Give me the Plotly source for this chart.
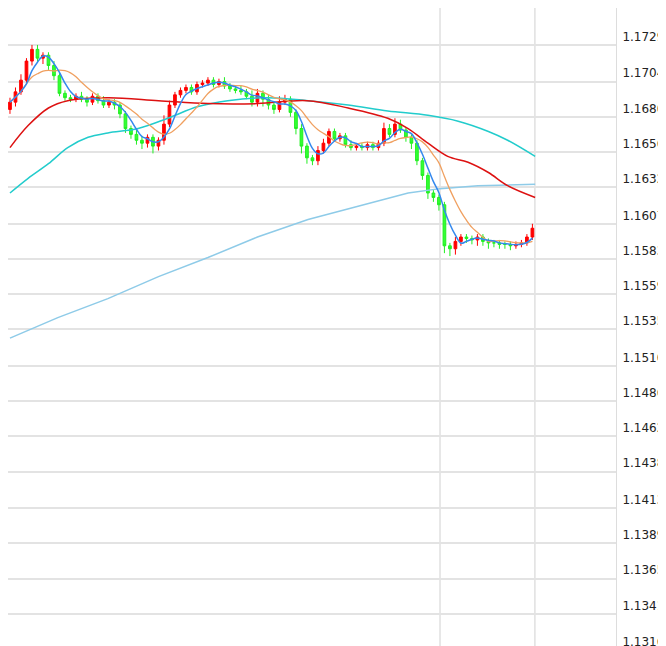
import plotly.graph_objects as go
import pandas as pd

closes = [1.1690,1.1697,1.1705,1.1718,1.1726,1.1720,1.1722,1.1715,1.1708,1.1696,
          1.1693,1.1692,1.1694,1.1692,1.1690,1.1694,1.1691,1.1688,1.1690,1.1688,
          1.1682,1.1672,1.1668,1.1664,1.1662,1.1666,1.1660,1.1664,1.1675,1.1688,
          1.1695,1.1698,1.1700,1.1697,1.1702,1.1703,1.1705,1.1702,1.1704,1.1701,
          1.1699,1.1698,1.1697,1.1694,1.1690,1.1696,1.1692,1.1688,1.1685,1.1690,
          1.1692,1.1683,1.1672,1.1660,1.1652,1.1650,1.1657,1.1662,1.1670,1.1665,
          1.1667,1.1661,1.1659,1.1660,1.1659,1.1661,1.1659,1.1662,1.1672,1.1668,
          1.1675,1.1671,1.1666,1.1662,1.1650,1.1640,1.1628,1.1625,1.1620,1.1592,
          1.1590,1.1595,1.1598,1.1597,1.1596,1.1598,1.1595,1.1594,1.1594,1.1593,
          1.1593,1.1592,1.1593,1.1594,1.1598,1.1604]
first_open = 1.1685
wick_up = [3,3,4,2,3,3,2,2,3,2, 2,2,2,3,2,2,2,3,2,2, 2,2,2,3,3,2,2,2,6,3,
           2,2,2,2,2,2,2,2,2,3, 2,2,3,2,4,3,2,3,2,4, 3,2,2,3,2,2,3,3,2,2,
           2,2,3,2,2,2,2,2,4,3, 4,3,2,2,2,2,2,2,2,2, 2,3,2,2,2,2,2,2,2,2,
           2,2,2,2,2,3]
wick_dn = [3,3,2,3,3,3,4,3,3,2, 2,2,2,2,3,2,2,2,2,3, 3,3,3,3,4,3,5,3,3,2,
           2,2,2,2,2,2,2,2,2,2, 2,2,2,2,3,3,5,3,3,2, 2,3,4,5,4,3,3,2,2,2,
           2,2,2,2,2,2,2,2,2,2, 2,2,3,4,3,3,4,3,4,5, 5,4,3,3,3,4,3,4,3,3,
           3,3,2,2,2,2]

red_x = [0,3.3,7,10.5,17.8,27,36,45,54,61.5,68.7,72.4,76,79.6,83.3,87,90.5,95.5]
red_v = [1.1659,1.1674,1.1686,1.1691,1.1693,1.1691,1.1689,1.1689,1.1691,1.1686,
         1.1679,1.1672,1.1662,1.1653,1.1649,1.1642,1.1633,1.1625]
cyan_x = [0,3.3,7,10.5,14.2,17.8,23.3,28.7,34.2,39.6,46.9,54.2,61.5,68.7,76,81.5,87,90.5,95.5]
cyan_v = [1.1628,1.1638,1.1648,1.1659,1.1666,1.1669,1.1672,1.1679,1.1687,1.1691,
          1.1693,1.1691,1.1688,1.1684,1.1681,1.1677,1.1670,1.1664,1.1653]
lb_x = [0,8.7,17.8,27,36,45,54.2,63.3,72.4,78.2,85.1,95.5]
lb_v = [1.1529,1.1543,1.1556,1.1571,1.1584,1.1598,1.1610,1.1619,1.1628,1.1631,1.1633,1.1634]

tick_vals = [1.1729,1.1704,1.1680,1.1656,1.1632,1.1607,1.1583,1.1559,1.1535,1.1510,
             1.1486,1.1462,1.1438,1.1413,1.1389,1.1365,1.1341,1.1316]

n = len(closes)
idx = list(range(n))
opens = [first_open] + closes[:-1]
highs = [max(o, c) + u * 0.0001 for o, c, u in zip(opens, closes, wick_up)]
lows = [min(o, c) - d * 0.0001 for o, c, d in zip(opens, closes, wick_dn)]

s = pd.Series(closes)
ma_fast = s.rolling(4, min_periods=1).mean()
ma_mid = s.rolling(9, min_periods=1).mean()

fig = go.Figure()
fig.add_trace(go.Scatter(x=lb_x, y=lb_v, mode="lines", line=dict(color="#8ecbe8", width=1.5)))
fig.add_trace(go.Scatter(x=cyan_x, y=cyan_v, mode="lines", line=dict(color="#22cccc", width=1.5, shape="spline")))
fig.add_trace(go.Scatter(x=red_x, y=red_v, mode="lines", line=dict(color="#dd1111", width=1.5, shape="spline")))
fig.add_trace(go.Candlestick(x=idx, open=opens, high=highs, low=lows, close=closes,
                             increasing=dict(line=dict(color="#ff0000", width=1), fillcolor="#ff0000"),
                             decreasing=dict(line=dict(color="#22ee22", width=1), fillcolor="#33ff33"),
                             whiskerwidth=0))
fig.add_trace(go.Scatter(x=idx, y=ma_mid, mode="lines", line=dict(color="#f0a060", width=1.3, shape="spline")))
fig.add_trace(go.Scatter(x=idx, y=ma_fast, mode="lines", line=dict(color="#3388ee", width=1.5, shape="spline")))

for xv in [78.2, 95.45]:
    fig.add_shape(type="line", x0=xv, x1=xv, y0=0, y1=1, yref="paper",
                  line=dict(color="#e0e0e0", width=1.5), layer="below")

fig.update_layout(
    width=666, height=646, margin=dict(l=0, r=58, t=0, b=0, pad=0),
    plot_bgcolor="white", paper_bgcolor="white", showlegend=False,
    font=dict(family="DejaVu Sans", size=12, color="#222"),
    xaxis=dict(range=[-0.36, 110.2], showgrid=False, showticklabels=False,
               rangeslider=dict(visible=False), zeroline=False,
               showline=False, automargin=False),
    yaxis=dict(side="right", range=[1.13136, 1.17542], tickvals=tick_vals,
               ticktext=[f"{v:.4f}" for v in tick_vals], ticklabelposition="outside top",
               ticklabelstandoff=3, automargin=False,
               gridcolor="#e3e3e3", gridwidth=1.5, showline=True, linecolor="#dddddd",
               linewidth=1, zeroline=False, ticks=""),
)
fig.write_html("out.html")
